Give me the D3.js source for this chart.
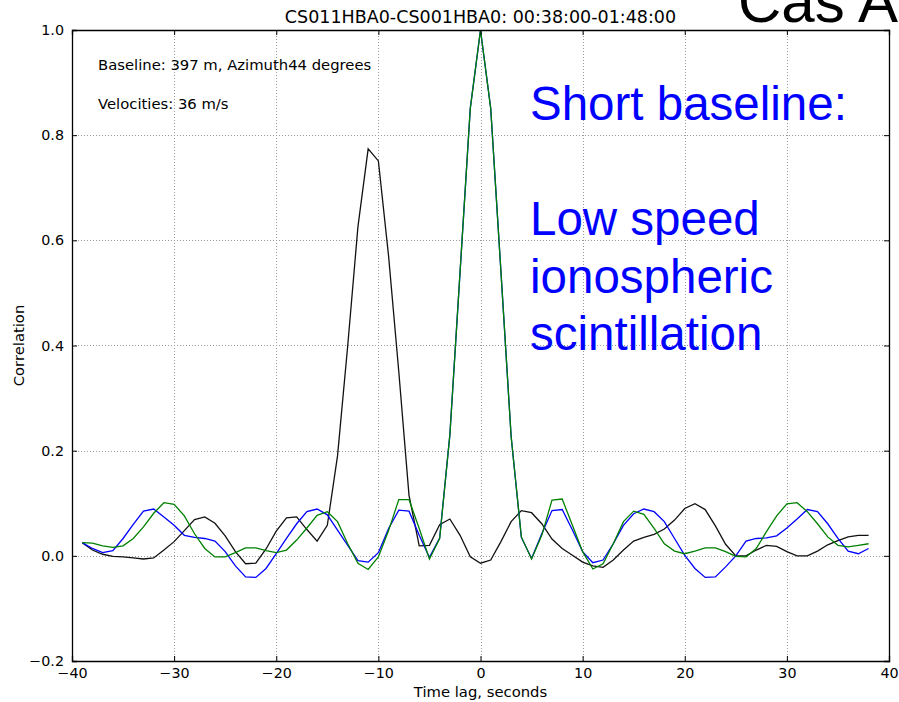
<!DOCTYPE html>
<html><head><meta charset="utf-8">
<script src="https://cdn.jsdelivr.net/npm/d3@7"></script>
<style>body{margin:0;background:#fff}svg{display:block}text{font-family:"DejaVu Sans",sans-serif}</style>
</head><body>
<svg id="c" width="899" height="702"></svg>
<script>
const lags = d3.range(-39, 39);
const blackVals = [0.025,0.011,0.003,-0.001,-0.002,-0.004,-0.006,-0.004,0.011,0.027,0.048,0.069,0.074,0.062,0.038,0.008,-0.015,-0.014,0.013,0.047,0.072,0.074,0.050,0.028,0.058,0.19,0.40,0.626,0.774,0.751,0.57,0.35,0.115,0.019,0.020,0.059,0.070,0.039,-0.002,-0.014,-0.008,0.027,0.065,0.086,0.082,0.061,0.032,0.014,0.001,-0.012,-0.019,-0.022,-0.008,0.011,0.028,0.035,0.041,0.051,0.068,0.090,0.099,0.088,0.057,0.022,0.0,0.0,0.011,0.020,0.018,0.008,0.0,0.0,0.009,0.021,0.029,0.036,0.039,0.039];
const blueVals = [0.025,0.014,0.006,0.010,0.033,0.060,0.085,0.089,0.074,0.058,0.039,0.035,0.033,0.028,0.008,-0.019,-0.040,-0.041,-0.024,0.004,0.033,0.061,0.084,0.089,0.078,0.049,0.020,-0.009,-0.012,0.006,0.052,0.087,0.085,0.039,-0.003,0.034,0.23,0.54,0.851,1.0,0.851,0.541,0.227,0.035,-0.005,0.042,0.086,0.088,0.049,0.008,-0.013,-0.008,0.023,0.058,0.080,0.089,0.084,0.065,0.033,0.001,-0.024,-0.041,-0.040,-0.021,0.0,0.028,0.033,0.034,0.038,0.053,0.070,0.088,0.084,0.061,0.033,0.009,0.004,0.014];
const greenVals = [0.025,0.024,0.019,0.016,0.019,0.033,0.055,0.081,0.101,0.098,0.076,0.042,0.014,-0.002,-0.002,0.006,0.015,0.015,0.010,0.006,0.011,0.030,0.053,0.077,0.084,0.065,0.023,-0.014,-0.026,-0.002,0.048,0.107,0.107,0.052,-0.006,0.033,0.23,0.54,0.851,1.0,0.851,0.541,0.227,0.036,-0.006,0.039,0.106,0.108,0.058,0.008,-0.025,-0.015,0.023,0.065,0.085,0.079,0.052,0.023,0.009,0.004,0.009,0.015,0.015,0.008,-0.001,-0.002,0.014,0.046,0.076,0.099,0.101,0.084,0.061,0.036,0.020,0.017,0.020,0.023];
const xTicks = [-40,-30,-20,-10,0,10,20,30,40];
const yTicks = [-0.2,0.0,0.2,0.4,0.6,0.8,1.0];
const titleText = "CS011HBA0-CS001HBA0: 00:38:00-01:48:00";
const noteLines = ["Baseline: 397 m, Azimuth44 degrees", "Velocities: 36 m/s"];
const bigLines = ["Short baseline:", "", "Low speed", "ionospheric", "scintillation"];
const cornerText = "Cas A";

const svg = d3.select("#c");
const L = 72, R = 889, T = 30, B = 661;
const x = d3.scaleLinear().domain([-40, 40]).range([L, R]);
const y = d3.scaleLinear().domain([-0.2, 1.0]).range([B, T]);
const fmtY = v => (v < 0 ? "\u2212" : "") + Math.abs(v).toFixed(1);
const fmtX = v => (v < 0 ? "\u2212" : "") + Math.abs(v);

// grid
const g = svg.append("g");
g.selectAll(".gx").data(xTicks.slice(1, -1)).enter().append("line")
  .attr("x1", d => Math.round(x(d)) + 0.5).attr("x2", d => Math.round(x(d)) + 0.5)
  .attr("y1", T).attr("y2", B).attr("stroke", "#999").attr("stroke-dasharray", "1,2");
g.selectAll(".gy").data(yTicks.slice(1, -1)).enter().append("line")
  .attr("y1", d => Math.round(y(d)) + 0.5).attr("y2", d => Math.round(y(d)) + 0.5)
  .attr("x1", L).attr("x2", R).attr("stroke", "#999").attr("stroke-dasharray", "1,2");

// lines
const line = vals => d3.line().x((d, i) => x(lags[i])).y(d => y(d))(vals);
svg.append("path").attr("d", line(blackVals)).attr("fill", "none").attr("stroke", "#111").attr("stroke-width", 1.3);
svg.append("path").attr("d", line(blueVals)).attr("fill", "none").attr("stroke", "#0000ff").attr("stroke-width", 1.3);
svg.append("path").attr("d", line(greenVals)).attr("fill", "none").attr("stroke", "#008000").attr("stroke-width", 1.3);

// axes
const axB = d3.axisBottom(x).tickValues(xTicks).tickSize(-5).tickPadding(7).tickFormat(fmtX);
const axT = d3.axisTop(x).tickValues(xTicks).tickSize(-5).tickFormat("");
const axL = d3.axisLeft(y).tickValues(yTicks).tickSize(-5).tickPadding(8).tickFormat(fmtY);
const axR = d3.axisRight(y).tickValues(yTicks).tickSize(-5).tickFormat("");
[[axB, `translate(0,${B})`], [axT, `translate(0,${T})`], [axL, `translate(${L},0)`], [axR, `translate(${R},0)`]].forEach(([a, t]) => {
  const gg = svg.append("g").attr("transform", t).call(a);
  gg.select(".domain").attr("stroke", "#000").attr("stroke-width", 1.3);
  gg.selectAll("text").attr("font-size", 14.3).attr("fill", "#000").style("font-family", "DejaVu Sans");
});

// labels
svg.append("text").attr("x", (L + R) / 2).attr("y", 23).attr("text-anchor", "middle").attr("font-size", 17.5).text(titleText);
svg.append("text").attr("x", (L + R) / 2).attr("y", 697).attr("text-anchor", "middle").attr("font-size", 14.8).text("Time lag, seconds");
svg.append("text").attr("transform", `translate(24,${(T + B) / 2}) rotate(-90)`).attr("text-anchor", "middle").attr("font-size", 14.8).text("Correlation");
noteLines.forEach((s, i) => svg.append("text").attr("x", 98).attr("y", 70 + i * 39).attr("font-size", 14.8).text(s));
bigLines.forEach((s, i) => svg.append("text").attr("x", 530).attr("y", 120 + i * 57.5)
  .attr("font-size", 47.5).attr("fill", "#0000ff").style("font-family", "Liberation Sans").text(s));
svg.append("text").attr("x", 738).attr("y", 22).attr("font-size", 60).attr("fill", "#000").style("font-family", "Liberation Sans").text(cornerText);
</script>
</body></html>
